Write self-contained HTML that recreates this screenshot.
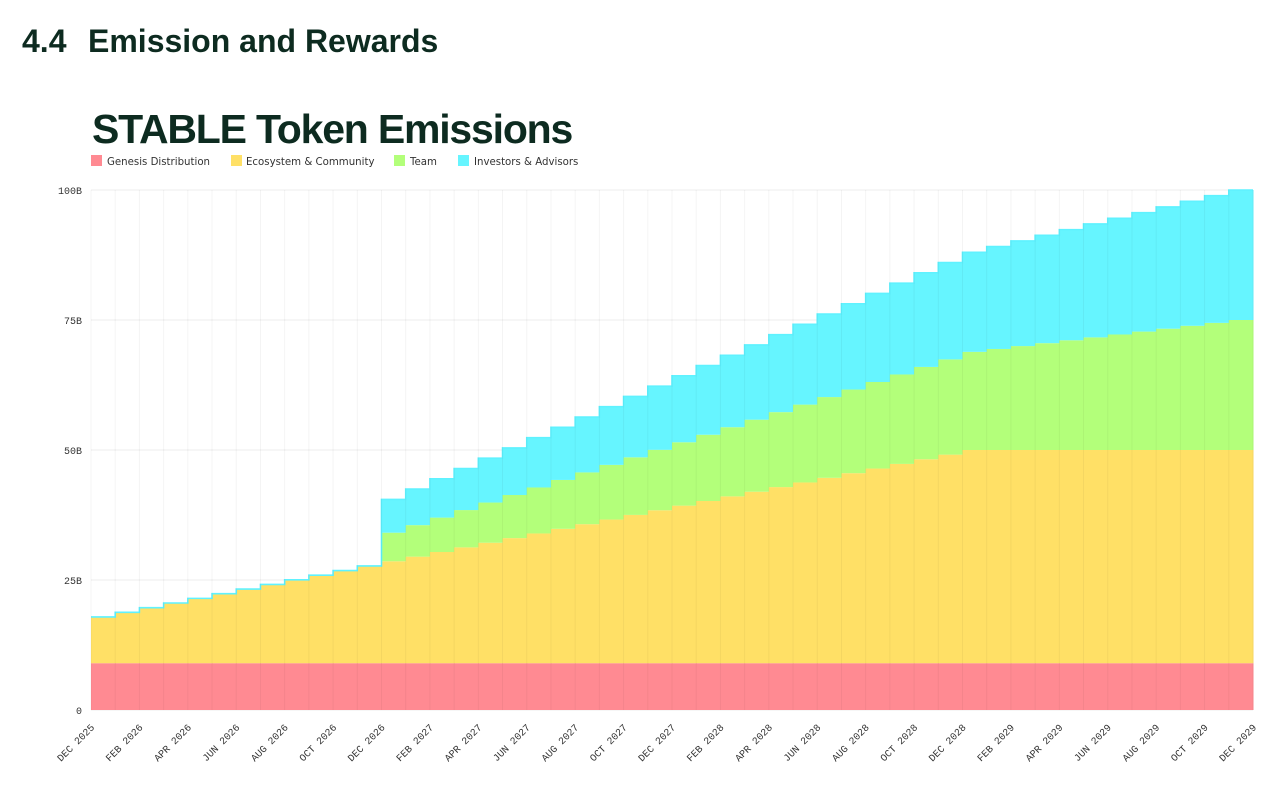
<!DOCTYPE html>
<html><head><meta charset="utf-8"><style>
body{margin:0;background:#fff;width:1280px;height:792px;overflow:hidden;font-family:"Liberation Sans",sans-serif}
</style></head><body>
<svg id="s" width="1280" height="792" xmlns="http://www.w3.org/2000/svg">
<text x="22" y="52" font-family="Liberation Sans" font-weight="bold" font-size="32" fill="#0d2b20">4.4</text>
<text x="88" y="52" font-family="Liberation Sans" font-weight="bold" font-size="32" fill="#0d2b20">Emission and Rewards</text>
<text x="92" y="143" font-family="Liberation Sans" font-weight="bold" font-size="41" fill="#0d2b20" letter-spacing="-1.2">STABLE Token Emissions</text>
<g font-family="DejaVu Sans" font-size="10.2" fill="#333">
<rect x="91" y="155" width="11" height="11" fill="#ff8a92"/><text x="107" y="165">Genesis Distribution</text>
<rect x="231" y="155" width="11" height="11" fill="#ffe066"/><text x="246" y="165">Ecosystem &amp; Community</text>
<rect x="394" y="155" width="11" height="11" fill="#b3ff7a"/><text x="410" y="165">Team</text>
<rect x="458" y="155" width="11" height="11" fill="#66f5ff"/><text x="474" y="165">Investors &amp; Advisors</text>
</g>
<g font-family="Liberation Mono" font-size="10" fill="#333" text-anchor="end">
<text x="82" y="194">100B</text><text x="82" y="324">75B</text><text x="82" y="454">50B</text><text x="82" y="584">25B</text><text x="82" y="714">0</text>
</g>
<g id="chart"></g>
<g id="xl" font-family="Liberation Mono" font-size="10" fill="#333" text-anchor="end"></g>
</svg>
<script>
var ns="http://www.w3.org/2000/svg",c=document.getElementById('chart'),xl=document.getElementById('xl');
function X(i){return 91+i*1162/48}function Y(v){return 710-5.2*v}
function el(t,a,p){var e=document.createElementNS(ns,t);for(var k in a)e.setAttribute(k,a[k]);(p||c).appendChild(e);return e}
for(var v=0;v<=100;v+=25)el('line',{x1:91,x2:1253,y1:Y(v),y2:Y(v),stroke:'#ececec','stroke-width':1});
var tops=[];
for(var i=0;i<48;i++){
 var y=17.9+32.1*Math.min(i,36)/36;
 var t=i>=12?5.5+19.5*(i-12)/35:0, inv=i>=12?6.4+18.6*(i-12)/35:0;
 var G=y+t,T=G+inv,x0=X(i),w=X(i+1)-x0+0.5;
 el('rect',{x:x0,y:Y(9),width:w,height:Y(0)-Y(9),fill:'#ff8a92'});
 el('rect',{x:x0,y:Y(y),width:w,height:Y(9)-Y(y),fill:'#ffe066'});
 if(t>0)el('rect',{x:x0,y:Y(G),width:w,height:Y(y)-Y(G),fill:'#b3ff7a'});
 if(inv>0)el('rect',{x:x0,y:Y(T),width:w,height:Y(G)-Y(T),fill:'#66f5ff'});
 tops.push([x0,X(i+1),T]);
}
var d='';tops.forEach(function(p,k){d+=(k?'L':'M')+p[0]+','+Y(p[2])+'L'+p[1]+','+Y(p[2])});
el('path',{d:d,fill:'none',stroke:'#5ff2ff','stroke-width':1.6});
for(var i=0;i<=48;i++)el('line',{x1:X(i),x2:X(i),y1:190,y2:710,stroke:'rgba(0,0,0,0.045)','stroke-width':1});
var m=['DEC','FEB','APR','JUN','AUG','OCT'];
for(var k=0;k<=24;k++){var i=k*2,yr=2025+Math.ceil(i/12),mn=m[k%6];
 var tx=el('text',{x:X(i)+4,y:728,transform:'rotate(-45 '+(X(i)+4)+' 728)'},xl);tx.textContent=mn+' '+yr;}
</script>
</body></html>
